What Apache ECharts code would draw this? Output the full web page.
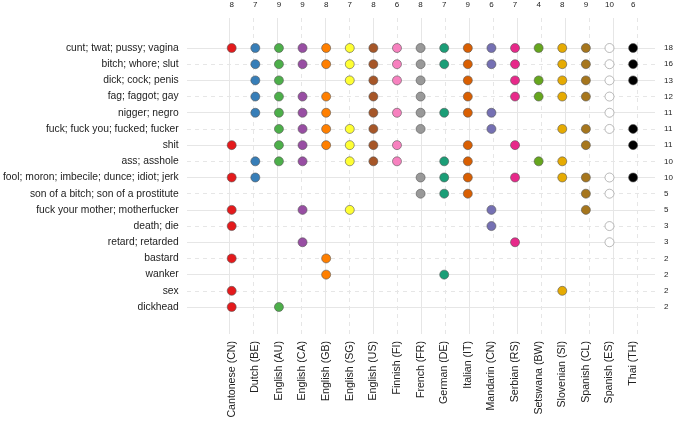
<!DOCTYPE html>
<html>
<head>
<meta charset="utf-8">
<script src="https://cdn.jsdelivr.net/npm/echarts@6/dist/echarts.min.js"></script>
<style>
html,body{margin:0;padding:0;background:#fff;}
#chart{width:676px;height:422px;}
</style>
</head>
<body>
<div id="chart"></div>
<script>
const languages = ["Cantonese (CN)","Dutch (BE)","English (AU)","English (CA)","English (GB)","English (SG)","English (US)","Finnish (FI)","French (FR)","German (DE)","Italian (IT)","Mandarin (CN)","Serbian (RS)","Setswana (BW)","Slovenian (SI)","Spanish (CL)","Spanish (ES)","Thai (TH)"];
const languageColors = ["#e41a1c","#377eb8","#4daf4a","#984ea3","#ff7f00","#ffff33","#a65628","#f781bf","#999999","#1b9e77","#d95f02","#7570b3","#e7298a","#66a61e","#e6ab02","#a6761d","#ffffff","#000000"];
const languageCounts = [8,7,9,9,8,7,8,6,8,7,9,6,7,4,8,9,10,6];
const terms = ["cunt; twat; pussy; vagina","bitch; whore; slut","dick; cock; penis","fag; faggot; gay","nigger; negro","fuck; fuck you; fucked; fucker","shit","ass; asshole","fool; moron; imbecile; dunce; idiot; jerk","son of a bitch; son of a prostitute","fuck your mother; motherfucker","death; die","retard; retarded","bastard","wanker","sex","dickhead"];
const termCounts = [18,16,13,12,11,11,11,10,10,5,5,3,3,2,2,2,2];
// language indices in which each term occurs
const termLanguageIdx = [
  [0,1,2,3,4,5,6,7,8,9,10,11,12,13,14,15,16,17],
  [1,2,3,4,5,6,7,8,9,10,11,12,14,15,16,17],
  [1,2,5,6,7,8,10,12,13,14,15,16,17],
  [1,2,3,4,6,8,10,12,13,14,15,16],
  [1,2,3,4,6,7,8,9,10,11,16],
  [2,3,4,5,6,8,11,14,15,16,17],
  [0,2,3,4,5,6,7,10,12,15,17],
  [1,2,3,5,6,7,9,10,13,14],
  [0,1,8,9,10,12,14,15,16,17],
  [8,9,10,15,16],
  [0,3,5,11,15],
  [0,11,16],
  [3,12,16],
  [0,4],
  [4,9],
  [0,14],
  [0,2]
];

const FONT = "Liberation Sans, Arial, Helvetica, sans-serif";
const gridColor = "#e6e6e6";

const chart = echarts.init(document.getElementById('chart'), null, {renderer:'canvas'});

const colIdx = languages.map((_, i) => i);
const rowIdx = terms.map((_, i) => i);

const series = [];
// background grid lines (alternating solid / dashed)
series.push({
  type: 'scatter', xAxisIndex: 0, yAxisIndex: 0, data: [], silent: true, z: 1,
  markLine: {
    silent: true, symbol: ['none','none'], label: {show:false}, animation: false,
    data: colIdx.map(i => ({xAxis: i, lineStyle: {color: gridColor, width: 1, type: i % 2 ? [4,4] : 'solid'}}))
      .concat(rowIdx.map(i => ({yAxis: i, lineStyle: {color: gridColor, width: 1, type: i % 2 ? [4,4] : 'solid'}})))
  }
});
languages.forEach((lang, li) => {
  const pts = [];
  termLanguageIdx.forEach((arr, ti) => { if (arr.includes(li)) pts.push([lang, terms[ti]]); });
  series.push({
    type: 'scatter', name: lang, xAxisIndex: 1, yAxisIndex: 1, z: 5,
    symbol: 'circle', symbolSize: 9,
    itemStyle: {color: languageColors[li], borderColor: li === 16 ? '#8c8c8c' : '#555', borderWidth: 0.6, opacity: 1},
    data: pts, animation: false
  });
});

const option = {
  backgroundColor: '#ffffff',
  animation: false,
  grid: [
    {left: 187, right: 21, top: 18, bottom: 88},
    {left: 229, right: 39, top: 48, bottom: 115}
  ],
  xAxis: [
    {type: 'value', gridIndex: 0, min: -1.75, max: 17.75, show: false},
    {type: 'category', gridIndex: 1, data: languages, boundaryGap: false, position: 'bottom',
     axisLine: {show:false}, axisTick: {show:false}, splitLine: {show:false},
     axisLabel: {rotate: 90, interval: 0, margin: 34, color: '#222', fontSize: 10.6, fontFamily: FONT}},
    {type: 'category', gridIndex: 1, data: languageCounts.map(String), boundaryGap: false, position: 'top',
     axisLine: {show:false}, axisTick: {show:false}, splitLine: {show:false},
     axisLabel: {interval: 0, margin: 39, color: '#222', fontSize: 8, fontFamily: FONT}}
  ],
  yAxis: [
    {type: 'value', gridIndex: 0, inverse: true, min: -1.8533, max: 17.668, show: false},
    {type: 'category', gridIndex: 1, data: terms, inverse: true, boundaryGap: false,
     axisLine: {show:false}, axisTick: {show:false}, splitLine: {show:false},
     axisLabel: {interval: 0, margin: 53, color: '#222', fontSize: 10.3, fontFamily: FONT}},
    {type: 'category', gridIndex: 1, data: termCounts.map(String), inverse: true, boundaryGap: false, position: 'right',
     axisLine: {show:false}, axisTick: {show:false}, splitLine: {show:false},
     axisLabel: {interval: 0, margin: 31, color: '#222', fontSize: 8, fontFamily: FONT, align: 'left'}}
  ],
  series: series
};
chart.setOption(option);
</script>
</body>
</html>
